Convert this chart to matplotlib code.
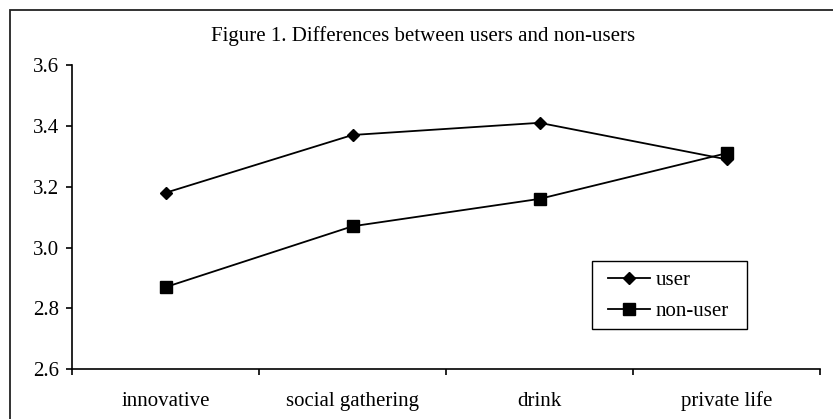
import matplotlib
matplotlib.use("Agg")
import matplotlib.pyplot as plt
from matplotlib.patches import Rectangle
from matplotlib.ticker import FixedLocator, NullFormatter
import numpy as np

categories = ["innovative", "social gathering", "drink", "private life"]
user = [3.18, 3.37, 3.41, 3.29]
non_user = [2.87, 3.07, 3.16, 3.31]
y_ticks = [2.6, 2.8, 3.0, 3.2, 3.4, 3.6]

plt.rcParams["font.family"] = ["Liberation Serif", "DejaVu Serif"]
plt.rcParams["font.size"] = 15

W, H = 833, 419
fig = plt.figure(figsize=(W / 100, H / 100), dpi=100)
ax = fig.add_axes([72 / W, 1 - 369.3 / H, (820 - 72) / W, (369.3 - 65) / H])

x = np.arange(len(categories))
ax.plot(x, user, color="black", lw=1.3, marker="D", ms=6.5, label="user")
ax.plot(x, non_user, color="black", lw=1.3, marker="s", ms=8.5, label="non-user")

ax.set_xlim(-0.5, len(categories) - 0.5)
ax.set_ylim(2.6, 3.6)
ax.set_yticks(y_ticks)
ax.set_yticklabels([f"{v:.1f}" for v in y_ticks])

# category names sit between the boundary ticks
ax.set_xticks(x)
ax.set_xticklabels(categories)
ax.xaxis.set_minor_locator(FixedLocator(np.arange(len(categories) + 1) - 0.5))
ax.xaxis.set_minor_formatter(NullFormatter())
ax.tick_params(axis="x", which="major", length=0, pad=16)
ax.tick_params(axis="x", which="minor", length=4, width=1.2, direction="out")
ax.tick_params(axis="y", length=4, width=1.2, direction="out", pad=5)

for side in ["top", "right"]:
    ax.spines[side].set_visible(False)
for side in ["left", "bottom"]:
    ax.spines[side].set_linewidth(1.2)

# legend entries without their own frame, boxed separately below
ax.legend(loc="upper left", bbox_to_anchor=(608 / W, 1 - 270.5 / H),
          bbox_transform=fig.transFigure, borderaxespad=0, frameon=False,
          handlelength=2.0, handletextpad=0.3, labelspacing=0.55, borderpad=0)
fig.add_artist(Rectangle((592 / W, 1 - 329 / H), 155 / W, 68 / H, transform=fig.transFigure,
                         fill=False, edgecolor="black", lw=1.0))

fig.text(423.5 / W, 1 - 41 / H, "Figure 1. Differences between users and non-users",
         ha="center", va="baseline")

# outer frame around the chart area
fig.add_artist(Rectangle((10 / W, -0.1), 1.2, 1.1 - 10 / H, transform=fig.transFigure,
                         fill=False, edgecolor="#222222", lw=1.3))

fig.savefig("out.png", dpi=100)
